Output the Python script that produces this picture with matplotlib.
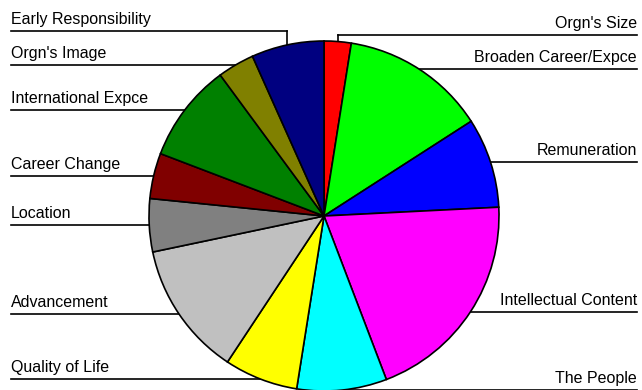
import matplotlib
matplotlib.use("Agg")
import matplotlib.pyplot as plt
import numpy as np

# data, clockwise from 12 o'clock
labels = ["Orgn's Size", "Broaden Career/Expce", "Remuneration", "Intellectual Content",
          "The People", "Quality of Life", "Advancement", "Location", "Career Change",
          "International Expce", "Orgn's Image", "Early Responsibility"]
values = [2.5, 13.4, 8.3, 20.0, 8.3, 6.8, 12.4, 4.9, 4.2, 9.1, 3.4, 6.7]
colors = ["#ff0000", "#00ff00", "#0000ff", "#ff00ff", "#00ffff", "#ffff00",
          "#c0c0c0", "#808080", "#800000", "#008000", "#808000", "#000080"]

plt.rcParams["font.family"] = ["Liberation Sans", "DejaVu Sans"]

W, H = 642, 390
CX, CY, R = 324, H - 216, 175
GAP = 34

fig = plt.figure(figsize=(W / 100, H / 100), dpi=100)
ax = fig.add_axes([0, 0, 1, 1])
wedges, _ = ax.pie(values, colors=colors, startangle=90, counterclock=False,
                   center=(CX, CY), radius=R,
                   wedgeprops=dict(edgecolor="black", linewidth=1.2))
ax.set_xlim(0, W)
ax.set_ylim(0, H)
ax.set_aspect("equal")
ax.axis("off")

# edge points at the middle of each wedge
pts = []
for lab, w in zip(labels, wedges):
    mid = np.deg2rad((w.theta1 + w.theta2) / 2)
    ex, ey = CX + R * np.cos(mid), CY + R * np.sin(mid)
    pts.append([lab, ex, ey, ey])

for side in ("left", "right"):
    grp = [p for p in pts if (p[1] < CX) == (side == "left")]
    grp.sort(key=lambda p: -p[2])
    for i in range(len(grp) - 2, -1, -1):
        if grp[i][3] - grp[i + 1][3] < GAP:
            grp[i][3] = grp[i + 1][3] + GAP
    for lab, ex, ey, ly in grp:
        if ly != ey:
            ax.plot([ex, ex], [ly, ey], color="black", lw=1.2, zorder=0)
        if side == "left":
            ax.plot([11, ex], [ly, ly], color="black", lw=1.2, zorder=0)
            ax.text(11, ly + 4, lab, ha="left", va="bottom", fontsize=11.5)
        else:
            ax.plot([ex, 637], [ly, ly], color="black", lw=1.2, zorder=0)
            ax.text(637, ly + 4, lab, ha="right", va="bottom", fontsize=11.5)

fig.savefig("out.png", dpi=100)
plt.close(fig)
